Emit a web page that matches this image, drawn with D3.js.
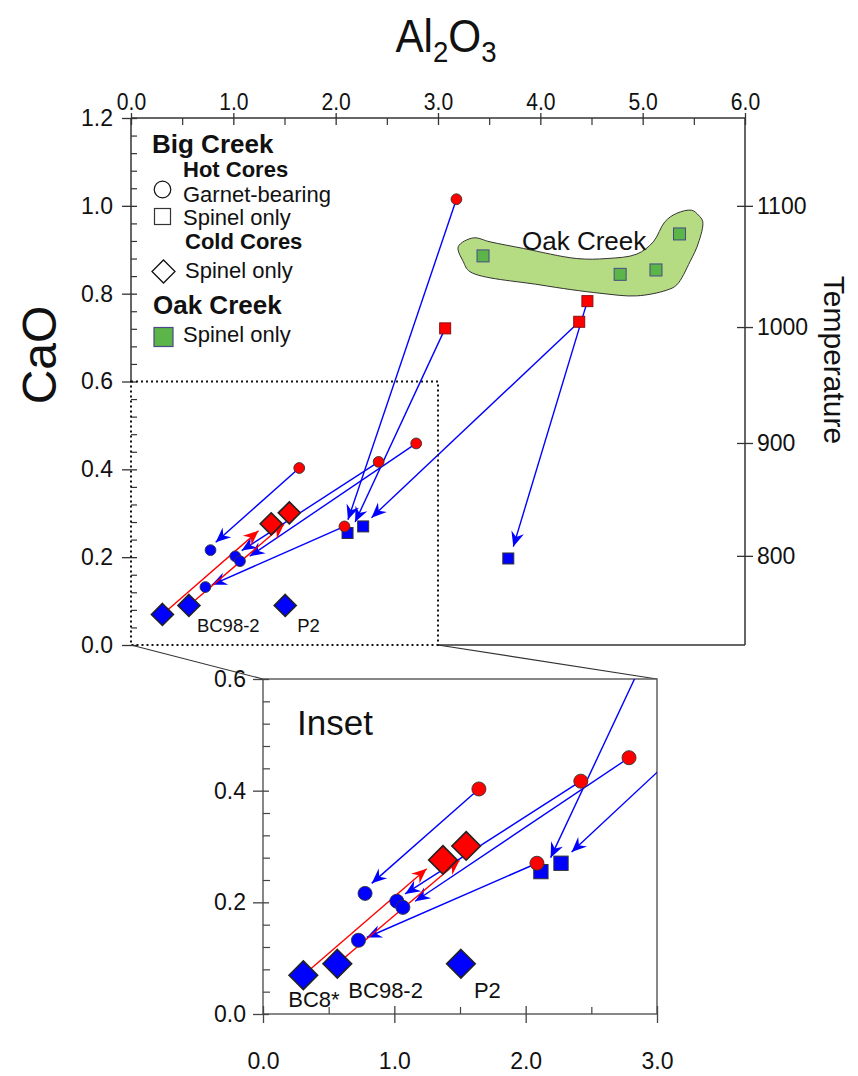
<!DOCTYPE html>
<html>
<head>
<meta charset="utf-8">
<script src="https://cdn.jsdelivr.net/npm/d3@7"></script>
<style>
  body { margin: 0; background: #fff; }
  svg { font-family: "Liberation Sans", Arial, Helvetica, sans-serif; }
  .domain { display: none; }
</style>
</head>
<body>
<div id="wrapper"></div>
<script>
// ---- data (Al2O3, CaO) ----
const alTicks = [0, 1, 2, 3, 4, 5, 6]
const alMinor = [0.5, 1.5, 2.5, 3.5, 4.5, 5.5]
const caTicks = [0, 0.2, 0.4, 0.6, 0.8, 1.0, 1.2]
const tempTicks = [800, 900, 1000, 1100]
const tempAtCaO = [0.203, 0.46, 0.724, 1.0]
const insetAlTicks = [0, 1, 2, 3]
const insetAlMinor = [0.5, 1.5, 2.5]
const insetCaTicks = [0, 0.2, 0.4, 0.6]

const hotGarnet = [[1.644, 0.403], [2.42, 0.417], [2.787, 0.459], [2.086, 0.27], [3.18, 1.015]]
const hotSpinel = [[3.07, 0.721], [4.38, 0.736], [4.46, 0.783]]
const coldCircles = [[0.777, 0.216], [1.019, 0.202], [1.065, 0.191], [0.727, 0.132]]
const coldSquares = [[2.116, 0.255], [2.269, 0.27], [3.687, 0.197]]
const redDiamonds = [[1.37, 0.276], [1.547, 0.301]]
const blueDiamonds = [[0.307, 0.0695], [0.566, 0.09], [1.507, 0.09]]
const diamondNames = ["BC8*", "BC98-2", "P2"]
const oakCreek = [[3.44, 0.886], [4.78, 0.844], [5.13, 0.854], [5.36, 0.936]]
const oakOutline = [
  [3.198, 0.907], [3.345, 0.927], [3.508, 0.918], [3.834, 0.903], [4.356, 0.880],
  [4.649, 0.880], [4.942, 0.890], [5.104, 0.918], [5.218, 0.964], [5.333, 0.983],
  [5.479, 0.990], [5.544, 0.979], [5.587, 0.964], [5.544, 0.915], [5.463, 0.873],
  [5.333, 0.820], [5.235, 0.808], [4.942, 0.795], [4.583, 0.801], [3.997, 0.820],
  [3.313, 0.850], [3.247, 0.873]
]
// arrows: from, tip, colour, shown in inset
const arrows = [
  {from: [1.644, 0.403], to: [0.828, 0.234], c: "blue", inset: true},
  {from: [2.42, 0.417], to: [1.082, 0.215], c: "blue", inset: true},
  {from: [2.787, 0.459], to: [1.159, 0.202], c: "blue", inset: true},
  {from: [2.086, 0.27], to: [0.79, 0.137], c: "blue", inset: true},
  {from: [3.18, 1.015], to: [2.12, 0.285], c: "blue", inset: false},
  {from: [3.07, 0.721], to: [2.19, 0.28], c: "blue", inset: true},
  {from: [4.38, 0.736], to: [2.35, 0.29], c: "blue", inset: true},
  {from: [4.46, 0.783], to: [3.736, 0.224], c: "blue", inset: true},
  {from: [0.307, 0.0695], to: [1.246, 0.26], c: "red", inset: true},
  {from: [0.566, 0.09], to: [1.496, 0.275], c: "red", inset: true},
]

const RED = "#ff0000", BLUE = "#0000ff"

const svg = d3.select("#wrapper").append("svg")
  .attr("width", 858).attr("height", 1076)

// scales
const x = d3.scaleLinear().domain([0, 6]).range([131, 745])
const y = d3.scaleLinear().domain([0, 1.2]).range([645, 118])
const tScale = d3.scaleLinear().domain(tempTicks).range(tempAtCaO.map(y))
const xi = d3.scaleLinear().domain([0, 3]).range([263, 657])
const yi = d3.scaleLinear().domain([0, 0.6]).range([1014, 679])

const defs = svg.append("defs")
;[["blue", BLUE], ["red", RED]].forEach(([k, col]) => {
  defs.append("marker")
    .attr("id", "arrow-" + k)
    .attr("viewBox", "-16 -8 17 16")
    .attr("markerWidth", 17).attr("markerHeight", 16)
    .attr("refX", 0).attr("refY", 0)
    .attr("markerUnits", "userSpaceOnUse")
    .attr("orient", "auto")
    .append("path")
    .attr("d", "M0,0 L-15,-6.5 L-10,0 L-15,6.5 Z")
    .attr("fill", col)
})
defs.append("clipPath").attr("id", "inset-clip")
  .append("rect")
  .attr("x", xi(0)).attr("y", yi(0.6))
  .attr("width", xi(3) - xi(0)).attr("height", yi(0) - yi(0.6))

const axisFont = g => g.attr("font-family", null).attr("font-size", null)

// ---- main axes ----
const frame = svg.append("g").attr("stroke", "#333").attr("stroke-width", 1.5)
frame.append("line").attr("x1", x(0)).attr("x2", x(6)).attr("y1", y(1.2)).attr("y2", y(1.2))
frame.append("line").attr("x1", x(6)).attr("x2", x(6)).attr("y1", y(1.2)).attr("y2", y(0))
frame.append("line").attr("x1", x(0)).attr("x2", x(0)).attr("y1", y(1.2)).attr("y2", y(0.6))
frame.append("line").attr("x1", x(3)).attr("x2", x(6)).attr("y1", y(0)).attr("y2", y(0))

const topAxisG = svg.append("g").attr("transform", `translate(0,${y(1.2)})`)
  .call(d3.axisTop(x).tickValues(alTicks).tickSize(5).tickPadding(3).tickFormat(d3.format(".1f")))
  .call(axisFont)
topAxisG.selectAll(".tick line").attr("y1", 7).attr("stroke", "#333").attr("stroke-width", 1.3)
topAxisG.selectAll(".tick text").attr("font-size", 24).attr("fill", "#111")
  .attr("transform", "scale(0.88,1)")
svg.append("g").attr("transform", `translate(0,${y(1.2)})`)
  .call(d3.axisTop(x).tickValues(alMinor).tickSize(-7).tickFormat(""))
  .selectAll(".tick line").attr("stroke", "#333").attr("stroke-width", 1.2)

const leftAxisG = svg.append("g").attr("transform", `translate(${x(0)},0)`)
  .call(d3.axisLeft(y).tickValues(caTicks).tickSize(9).tickPadding(9).tickFormat(d3.format(".1f")))
  .call(axisFont)
leftAxisG.selectAll(".tick line").attr("x1", 6).attr("stroke", "#333").attr("stroke-width", 1.3)
leftAxisG.selectAll(".tick text").attr("font-size", 23).attr("fill", "#111")
const caMinor = d3.range(0, 1.2001, 0.04).filter(v => Math.abs(v / 0.2 - Math.round(v / 0.2)) > 0.01)
svg.append("g").attr("transform", `translate(${x(0)},0)`)
  .call(d3.axisLeft(y).tickValues(caMinor).tickSize(-6).tickFormat(""))
  .selectAll(".tick line").attr("stroke", "#333").attr("stroke-width", 1.2)

const rightAxisG = svg.append("g").attr("transform", `translate(${x(6)},0)`)
  .call(d3.axisRight(tScale).tickValues(tempTicks).tickSize(8).tickPadding(4).tickFormat(d3.format("d")))
  .call(axisFont)
rightAxisG.selectAll(".tick line").attr("x1", -8).attr("stroke", "#333").attr("stroke-width", 1.3)
rightAxisG.selectAll(".tick text").attr("font-size", 23).attr("fill", "#111")

// titles
const alTitle = svg.append("text")
  .attr("transform", "translate(446,52) scale(0.92,1)")
  .attr("text-anchor", "middle").attr("font-size", 46).attr("fill", "#111")
alTitle.append("tspan").text("Al")
alTitle.append("tspan").attr("font-size", 30).attr("dy", 10).text("2")
alTitle.append("tspan").attr("dy", -10).text("O")
alTitle.append("tspan").attr("font-size", 30).attr("dy", 10).text("3")

svg.append("text")
  .attr("transform", "translate(56,355) rotate(-90)")
  .attr("text-anchor", "middle").attr("font-size", 48).attr("fill", "#111")
  .text("CaO")
svg.append("text")
  .attr("transform", "translate(824,360) rotate(90)")
  .attr("text-anchor", "middle").attr("font-size", 30).attr("fill", "#111")
  .text("Temperature")

// ---- Oak Creek field ----
svg.append("path")
  .attr("d", d3.line().x(d => x(d[0])).y(d => y(d[1])).curve(d3.curveCatmullRomClosed.alpha(0.5))(oakOutline))
  .attr("fill", "#b5dc83").attr("stroke", "#333").attr("stroke-width", 1)
svg.append("text").attr("x", 522).attr("y", 250)
  .attr("font-size", 26).attr("fill", "#111").text("Oak Creek")

// ---- marks, drawn for main plot and inset ----
function drawMarks(g, sx, sy, k, isInset) {
  g.selectAll(".arrow")
    .data(arrows.filter(a => !isInset || a.inset))
    .join("line")
    .attr("x1", d => sx(d.from[0])).attr("y1", d => sy(d.from[1]))
    .attr("x2", d => sx(d.to[0])).attr("y2", d => sy(d.to[1]))
    .attr("stroke", d => d.c === "red" ? RED : BLUE)
    .attr("stroke-width", 1.4)
    .attr("marker-end", d => `url(#arrow-${d.c})`)

  const sq = (data, s, fill, stroke) => g.selectAll(null).data(data).join("rect")
    .attr("x", d => sx(d[0]) - s / 2).attr("y", d => sy(d[1]) - s / 2)
    .attr("width", s).attr("height", s)
    .attr("fill", fill).attr("stroke", stroke).attr("stroke-width", 1)
  const circ = (data, r, fill) => g.selectAll(null).data(data).join("circle")
    .attr("cx", d => sx(d[0])).attr("cy", d => sy(d[1])).attr("r", r)
    .attr("fill", fill).attr("stroke", "#333").attr("stroke-width", 0.9)
  const diam = (data, h, fill) => g.selectAll(null).data(data).join("path")
    .attr("d", d => {
      const cx = sx(d[0]), cy = sy(d[1])
      return `M${cx},${cy - h}L${cx + h},${cy}L${cx},${cy + h}L${cx - h},${cy}Z`
    })
    .attr("fill", fill).attr("stroke", "#222").attr("stroke-width", 1.6)

  if (!isInset) sq(oakCreek, 12, "#5bb548", "#4a4a88")
  sq(hotSpinel, 11 * k, RED, "#8a1010")
  sq(coldSquares, 11 * k, BLUE, "#333")
  circ(coldCircles, 5.4 * k, BLUE)
  circ(hotGarnet, 5.4 * k, RED)
  diam(redDiamonds, 11 * k, RED)
  diam(blueDiamonds, 11 * k, BLUE)
}

drawMarks(svg.append("g"), x, y, 1, false)

// main labels
svg.append("g").selectAll("text").data(blueDiamonds.slice(1))
  .join("text")
  .attr("x", (d, i) => x(d[0]) + (i === 0 ? 8 : 12))
  .attr("y", d => y(d[1]) + 27)
  .attr("font-size", 18.5).attr("fill", "#111")
  .text((d, i) => diamondNames[i + 1])

// dotted zoom box and connectors
svg.append("rect")
  .attr("x", x(0)).attr("y", y(0.6))
  .attr("width", x(3) - x(0)).attr("height", y(0) - y(0.6))
  .attr("fill", "none").attr("stroke", "#111").attr("stroke-width", 2)
  .attr("stroke-dasharray", "2,3")
const conn = svg.append("g").attr("stroke", "#333").attr("stroke-width", 1.1)
conn.append("line").attr("x1", x(0)).attr("y1", y(0)).attr("x2", xi(0)).attr("y2", yi(0.6))
conn.append("line").attr("x1", x(3)).attr("y1", y(0)).attr("x2", xi(3)).attr("y2", yi(0.6))

// ---- inset ----
const insetFrame = svg.append("g").attr("stroke", "#555").attr("stroke-width", 1.4)
insetFrame.append("rect")
  .attr("x", xi(0)).attr("y", yi(0.6))
  .attr("width", xi(3) - xi(0)).attr("height", yi(0) - yi(0.6))
  .attr("fill", "#fff")

drawMarks(svg.append("g").attr("clip-path", "url(#inset-clip)"), xi, yi, 1.3, true)

const iLeft = svg.append("g").attr("transform", `translate(${xi(0)},0)`)
  .call(d3.axisLeft(yi).tickValues(insetCaTicks).tickSize(10).tickPadding(7).tickFormat(d3.format(".1f")))
  .call(axisFont)
iLeft.selectAll(".tick line").attr("x1", 6).attr("stroke", "#444").attr("stroke-width", 1.3)
iLeft.selectAll(".tick text").attr("font-size", 23).attr("fill", "#111")
const caMinorInset = d3.range(0, 0.6001, 0.04).filter(v => Math.abs(v / 0.2 - Math.round(v / 0.2)) > 0.01)
svg.append("g").attr("transform", `translate(${xi(0)},0)`)
  .call(d3.axisLeft(yi).tickValues(caMinorInset).tickSize(-7).tickFormat(""))
  .selectAll(".tick line").attr("stroke", "#444").attr("stroke-width", 1.2)

const iBottom = svg.append("g").attr("transform", `translate(0,${yi(0)})`)
  .call(d3.axisBottom(xi).tickValues(insetAlTicks).tickSize(9).tickPadding(30).tickFormat(d3.format(".1f")))
  .call(axisFont)
iBottom.selectAll(".tick line").attr("y1", -8).attr("stroke", "#444").attr("stroke-width", 1.3)
iBottom.selectAll(".tick text").attr("font-size", 23).attr("fill", "#111")
svg.append("g").attr("transform", `translate(0,${yi(0)})`)
  .call(d3.axisBottom(xi).tickValues(insetAlMinor).tickSize(-7).tickFormat(""))
  .selectAll(".tick line").attr("stroke", "#444").attr("stroke-width", 1.2)

svg.append("text").attr("x", 297).attr("y", 735)
  .attr("font-size", 35).attr("fill", "#111").text("Inset")

svg.append("g").selectAll("text").data(blueDiamonds)
  .join("text")
  .attr("x", (d, i) => xi(d[0]) + [-15, 11, 13][i])
  .attr("y", (d, i) => yi(d[1]) + [32, 34, 34][i])
  .attr("font-size", 22).attr("fill", "#111")
  .text((d, i) => diamondNames[i])

// ---- legend ----
const legend = svg.append("g").attr("fill", "#111")
legend.append("text").attr("x", 152).attr("y", 153).attr("font-size", 26).attr("font-weight", "bold").text("Big Creek")
legend.append("text").attr("x", 183).attr("y", 177).attr("font-size", 22).attr("font-weight", "bold").text("Hot Cores")
legend.append("circle").attr("cx", 162.5).attr("cy", 189.5).attr("r", 8.3)
  .attr("fill", "#fff").attr("stroke", "#111").attr("stroke-width", 1.2)
legend.append("text").attr("x", 183).attr("y", 202).attr("font-size", 22).text("Garnet-bearing")
legend.append("rect").attr("x", 154.5).attr("y", 208.5).attr("width", 16).attr("height", 16)
  .attr("fill", "#fff").attr("stroke", "#333").attr("stroke-width", 1.2)
legend.append("text").attr("x", 183).attr("y", 225).attr("font-size", 22).text("Spinel only")
legend.append("text").attr("x", 185).attr("y", 249).attr("font-size", 22).attr("font-weight", "bold").text("Cold Cores")
legend.append("path").attr("d", "M163.5,260L175,271.5L163.5,283L152,271.5Z")
  .attr("fill", "#fff").attr("stroke", "#111").attr("stroke-width", 1.3)
legend.append("text").attr("x", 185).attr("y", 278).attr("font-size", 22).text("Spinel only")
legend.append("text").attr("x", 153).attr("y", 314).attr("font-size", 26).attr("font-weight", "bold").text("Oak Creek")
legend.append("rect").attr("x", 154).attr("y", 327.5).attr("width", 19).attr("height", 19)
  .attr("fill", "#5bb548").attr("stroke", "#4a4a88").attr("stroke-width", 1.2)
legend.append("text").attr("x", 183).attr("y", 342).attr("font-size", 22).text("Spinel only")
</script>
</body>
</html>
